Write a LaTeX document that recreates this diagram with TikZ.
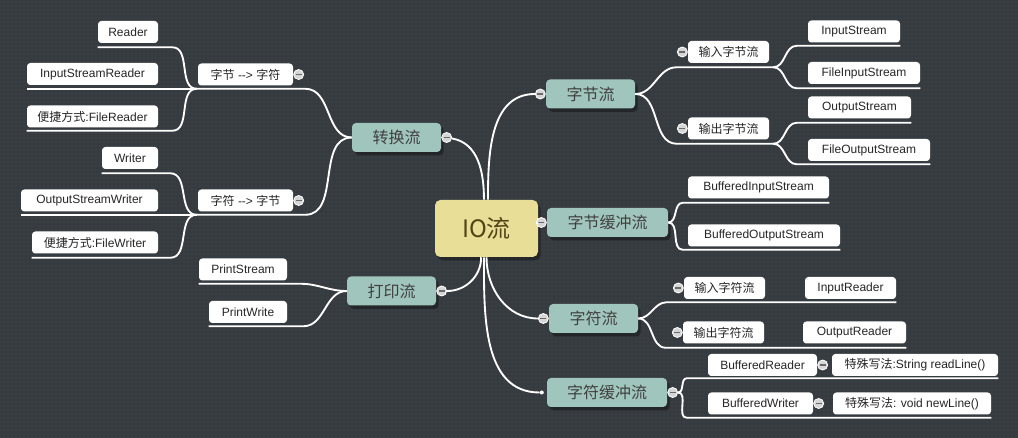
\documentclass[tikz,border=0pt]{standalone}
\usepackage{fontspec}
\setmainfont{Liberation Sans}
\newfontfamily\cjk{Noto Sans CJK SC}
\usetikzlibrary{positioning,shadows,patterns}
\definecolor{board}{HTML}{363B40}
\definecolor{boarddot}{HTML}{4A5056}
\definecolor{topicc}{HTML}{A0C5BD}
\definecolor{topict}{HTML}{404040}
\definecolor{centrec}{HTML}{E8DE97}
\definecolor{centret}{HTML}{544416}
\definecolor{foldc}{HTML}{D6D6D6}
\definecolor{minusc}{HTML}{6A6A6A}

\begin{document}
\begin{tikzpicture}[x=0.75pt,y=-0.75pt]
	  \tikzstyle{centre}=[fill=centrec,rounded corners=4pt,text=centret,font=\cjk\fontsize{18}{20}\selectfont,minimum width=77.25pt,minimum height=42.75pt,inner sep=0pt,drop shadow={shadow xshift=2pt,shadow yshift=-2.5pt,fill=black,opacity=0.35}]
	  \tikzstyle{topic}=[fill=topicc,rounded corners=3pt,text=topict,font=\cjk\fontsize{12}{14}\selectfont,minimum height=21.75pt,inner sep=0pt,drop shadow={shadow xshift=2pt,shadow yshift=-2.5pt,fill=black,opacity=0.35}]
	  \tikzstyle{leaf}=[fill=white,rounded corners=2.5pt,text=black!85,font=\fontsize{9}{11}\selectfont,minimum height=16.5pt,inner sep=0pt]
	  \tikzstyle{fold}=[circle,draw=white,line width=0.6pt,fill=foldc,minimum size=7.5pt,inner sep=0pt,path picture={\draw[minusc,line width=0.9pt] ([xshift=-2.2pt]path picture bounding box.center) -- ([xshift=2.2pt]path picture bounding box.center);}]
	  \tikzstyle{knot}=[circle,fill=white,minimum size=3pt,inner sep=0pt]
	  \tikzstyle{link}=[draw=white,line width=1.4pt]

	  \useasboundingbox (0,0) rectangle (1018,438);
	  \fill[board] (0,0) rectangle (1018,438);
	  \fill[pattern=dots,pattern color=boarddot] (0,0) rectangle (1018,438);

	  \node[centre] (io) at (486.5,228.5) {IO流};

	  % left side
	  \node[topic,minimum width=66.75pt] (zh) at (396.5,137.5) {转换流};
	  \node[leaf,minimum width=71.25pt] (b2c) at (245.5,74.5) {{\cjk 字节} -{}-{}> {\cjk 字符}};
	  \node[leaf,minimum width=45pt] (reader) at (128,32) {Reader};
	  \node[leaf,minimum width=98.25pt] (isr) at (92.5,74) {InputStreamReader};
	  \node[leaf,minimum width=98.25pt] (frd) at (92.5,116.5) {{\cjk 便捷方式}:FileReader};
	  \node[leaf,minimum width=71.25pt] (c2b) at (245.5,200.5) {{\cjk 字符} -{}-{}> {\cjk 字节}};
	  \node[leaf,minimum width=42pt] (writer) at (130,158) {Writer};
	  \node[leaf,minimum width=102.75pt] (osw) at (89.5,200.5) {OutputStreamWriter};
	  \node[leaf,minimum width=94.5pt] (fwr) at (95,242.5) {{\cjk 便捷方式}:FileWriter};
	  \node[topic,minimum width=66.75pt] (dy) at (391.5,291) {打印流};
	  \node[leaf,minimum width=66pt] (ps) at (243,269.5) {PrintStream};
	  \node[leaf,minimum width=58.5pt] (pw) at (248,312) {PrintWrite};

	  % right side
	  \node[topic,minimum width=66.75pt] (zj) at (590.5,94) {字节流};
	  \node[leaf,minimum width=60.75pt] (zjin) at (728.5,52) {\cjk 输入字节流};
	  \node[leaf,minimum width=69pt] (is) at (854,31.5) {InputStream};
	  \node[leaf,minimum width=84pt] (fis) at (864,73) {FileInputStream};
	  \node[leaf,minimum width=60.75pt] (zjout) at (728.5,128.5) {\cjk 输出字节流};
	  \node[leaf,minimum width=77.25pt] (os) at (859.5,107.5) {OutputStream};
	  \node[leaf,minimum width=91.5pt] (fos) at (869,150) {FileOutputStream};
	  \node[topic,minimum width=90.75pt] (zjhc) at (607.5,222.5) {字节缓冲流};
	  \node[leaf,minimum width=105.75pt] (bis) at (758.5,187.5) {BufferedInputStream};
	  \node[leaf,minimum width=114pt] (bos) at (764,235.5) {BufferedOutputStream};
	  \node[topic,minimum width=66.75pt] (zf) at (593.5,318.5) {字符流};
	  \node[leaf,minimum width=60.75pt] (zfin) at (724.5,288) {\cjk 输入字符流};
	  \node[leaf,minimum width=68.25pt] (irdr) at (850.5,288) {InputReader};
	  \node[leaf,minimum width=60.75pt] (zfout) at (723.5,332.5) {\cjk 输出字符流};
	  \node[leaf,minimum width=77.25pt] (ordr) at (854.5,332.5) {OutputReader};
	  \node[topic,minimum width=90pt] (zfhc) at (607,392.5) {字符缓冲流};
	  \node[leaf,minimum width=81.75pt] (br) at (762.5,365) {BufferedReader};
	  \node[leaf,minimum width=124.5pt] (rl) at (915,365) {{\cjk 特殊写法}:String readLine()};
	  \node[leaf,minimum width=78.75pt] (bw) at (760.5,403.5) {BufferedWriter};
	  \node[leaf,minimum width=118.5pt] (nl) at (912,403.5) {{\cjk 特殊写法}: void newLine()};

	  % fold buttons
	  \node[fold,right=0pt of zh] (zh-f) {};
	  \node[fold,right=0pt of b2c] (b2c-f) {};
	  \node[fold,right=0pt of c2b] (c2b-f) {};
	  \node[fold,right=0pt of dy] (dy-f) {};
	  \node[fold,left=0pt of zj] (zj-f) {};
	  \node[fold,left=0pt of zjin] (zjin-f) {};
	  \node[fold,left=0pt of zjout] (zjout-f) {};
	  \node[fold,left=0pt of zjhc] (zjhc-f) {};
	  \node[fold,left=0pt of zf] (zf-f) {};
	  \node[fold,left=0pt of zfin] (zfin-f) {};
	  \node[fold,left=0pt of zfout] (zfout-f) {};
	  \node[fold,right=0pt of zfhc] (zfhc-f) {};
	  \node[fold,right=0pt of br] (br-f) {};
	  \node[fold,right=0pt of bw] (bw-f) {};
	  \node[knot,left=2pt of zfhc] (zfhc-d) {};

	  % centre to topics
	  \draw[link] (zh-f) to[out=-10,in=90] ([xshift=-1.9pt]io.north);
	  \draw[link] ([xshift=1.1pt]io.north) to[out=90,in=180] (zj-f);
	  \draw[link] (io) -- (zjhc-f);
	  \draw[link] (io.south) to[out=-90,in=180] (zf-f);
	  \draw[link] ([xshift=-1.9pt]io.south) to[out=-90,in=180] (zfhc-d);
	  \draw[link] (dy-f) to[out=0,in=-90] ([xshift=-4pt]io.south);

	  % left branches
	  \draw[link] (zh.west) to[out=180,in=0] ([xshift=9pt,yshift=-2.25pt]b2c.south east) -- ([xshift=-0.75pt,yshift=-2.25pt]b2c.south west) coordinate (b2c-j);
	  \draw[link] (b2c-j) to[out=180,in=0] ([xshift=10.5pt,yshift=-3pt]reader.south east) -- ([yshift=-3pt]reader.south west);
	  \draw[link] (b2c-j) -- (b2c-j -| isr.west);
	  \draw[link] (b2c-j) to[out=180,in=0] ([xshift=10.5pt,yshift=-2.25pt]frd.south east) -- ([yshift=-2.25pt]frd.south west);
	  \draw[link] (zh.west) to[out=180,in=0] ([xshift=9pt,yshift=-2.25pt]c2b.south east) -- ([xshift=-0.75pt,yshift=-2.25pt]c2b.south west) coordinate (c2b-j);
	  \draw[link] (c2b-j) to[out=180,in=0] ([xshift=9pt,yshift=-3pt]writer.south east) -- ([yshift=-3pt]writer.south west);
	  \draw[link] (c2b-j) -- (c2b-j -| osw.west);
	  \draw[link] (c2b-j) to[out=180,in=0] ([xshift=9pt,yshift=-3pt]fwr.south east) -- ([yshift=-3pt]fwr.south west);
	  \draw[link] (dy.west) to[out=180,in=0] ([xshift=9.75pt,yshift=-2.25pt]ps.south east) -- ([yshift=-2.25pt]ps.south west);
	  \draw[link] (dy.west) to[out=180,in=0] ([xshift=12pt,yshift=-2.25pt]pw.south east) -- ([yshift=-2.25pt]pw.south west);

	  % right branches
	  \draw[link] (zj.east) to[out=0,in=180] ([xshift=-8.25pt,yshift=-3pt]zjin.south west) -- ([xshift=3pt,yshift=-3pt]zjin.south east) coordinate (zjin-j);
	  \draw[link] (zjin-j) to[out=0,in=180] ([xshift=-8.25pt,yshift=-2.25pt]is.south west) -- ([yshift=-2.25pt]is.south east);
	  \draw[link] (zjin-j) to[out=0,in=180] ([xshift=-8.25pt,yshift=-3pt]fis.south west) -- ([yshift=-3pt]fis.south east);
	  \draw[link] (zj.east) to[out=0,in=180] ([xshift=-8.25pt,yshift=-3pt]zjout.south west) -- ([xshift=3pt,yshift=-3pt]zjout.south east) coordinate (zjout-j);
	  \draw[link] (zjout-j) to[out=0,in=180] ([xshift=-8.25pt,yshift=-3pt]os.south west) -- ([yshift=-3pt]os.south east);
	  \draw[link] (zjout-j) to[out=0,in=180] ([xshift=-8.25pt,yshift=-2.25pt]fos.south west) -- ([yshift=-2.25pt]fos.south east);
	  \draw[link] (zjhc.east) to[out=0,in=180] ([xshift=-3.75pt,yshift=-3pt]bis.south west) -- ([yshift=-3pt]bis.south east);
	  \draw[link] (zjhc.east) to[out=0,in=180] ([xshift=-3.75pt,yshift=-2.25pt]bos.south west) -- ([yshift=-2.25pt]bos.south east);
	  \draw[link] (zf.east) to[out=0,in=180] ([xshift=-12.75pt,yshift=-2.25pt]zfin.south west) -- ([yshift=-2.25pt]irdr.south east);
	  \draw[link] (zf.east) to[out=0,in=180] ([xshift=-12.75pt,yshift=-3pt]zfout.south west) -- ([yshift=-3pt]ordr.south east);
	  \draw[link] (zfhc-f) to[out=0,in=180] ([xshift=-15.75pt,yshift=-1.5pt]br.south west) -- ([yshift=-1.5pt]rl.south east);
	  \draw[link] (zfhc-f) to[out=0,in=180] ([xshift=-15.75pt,yshift=-2.25pt]bw.south west) -- ([yshift=-2.25pt]nl.south east);
\end{tikzpicture}
\end{document}
